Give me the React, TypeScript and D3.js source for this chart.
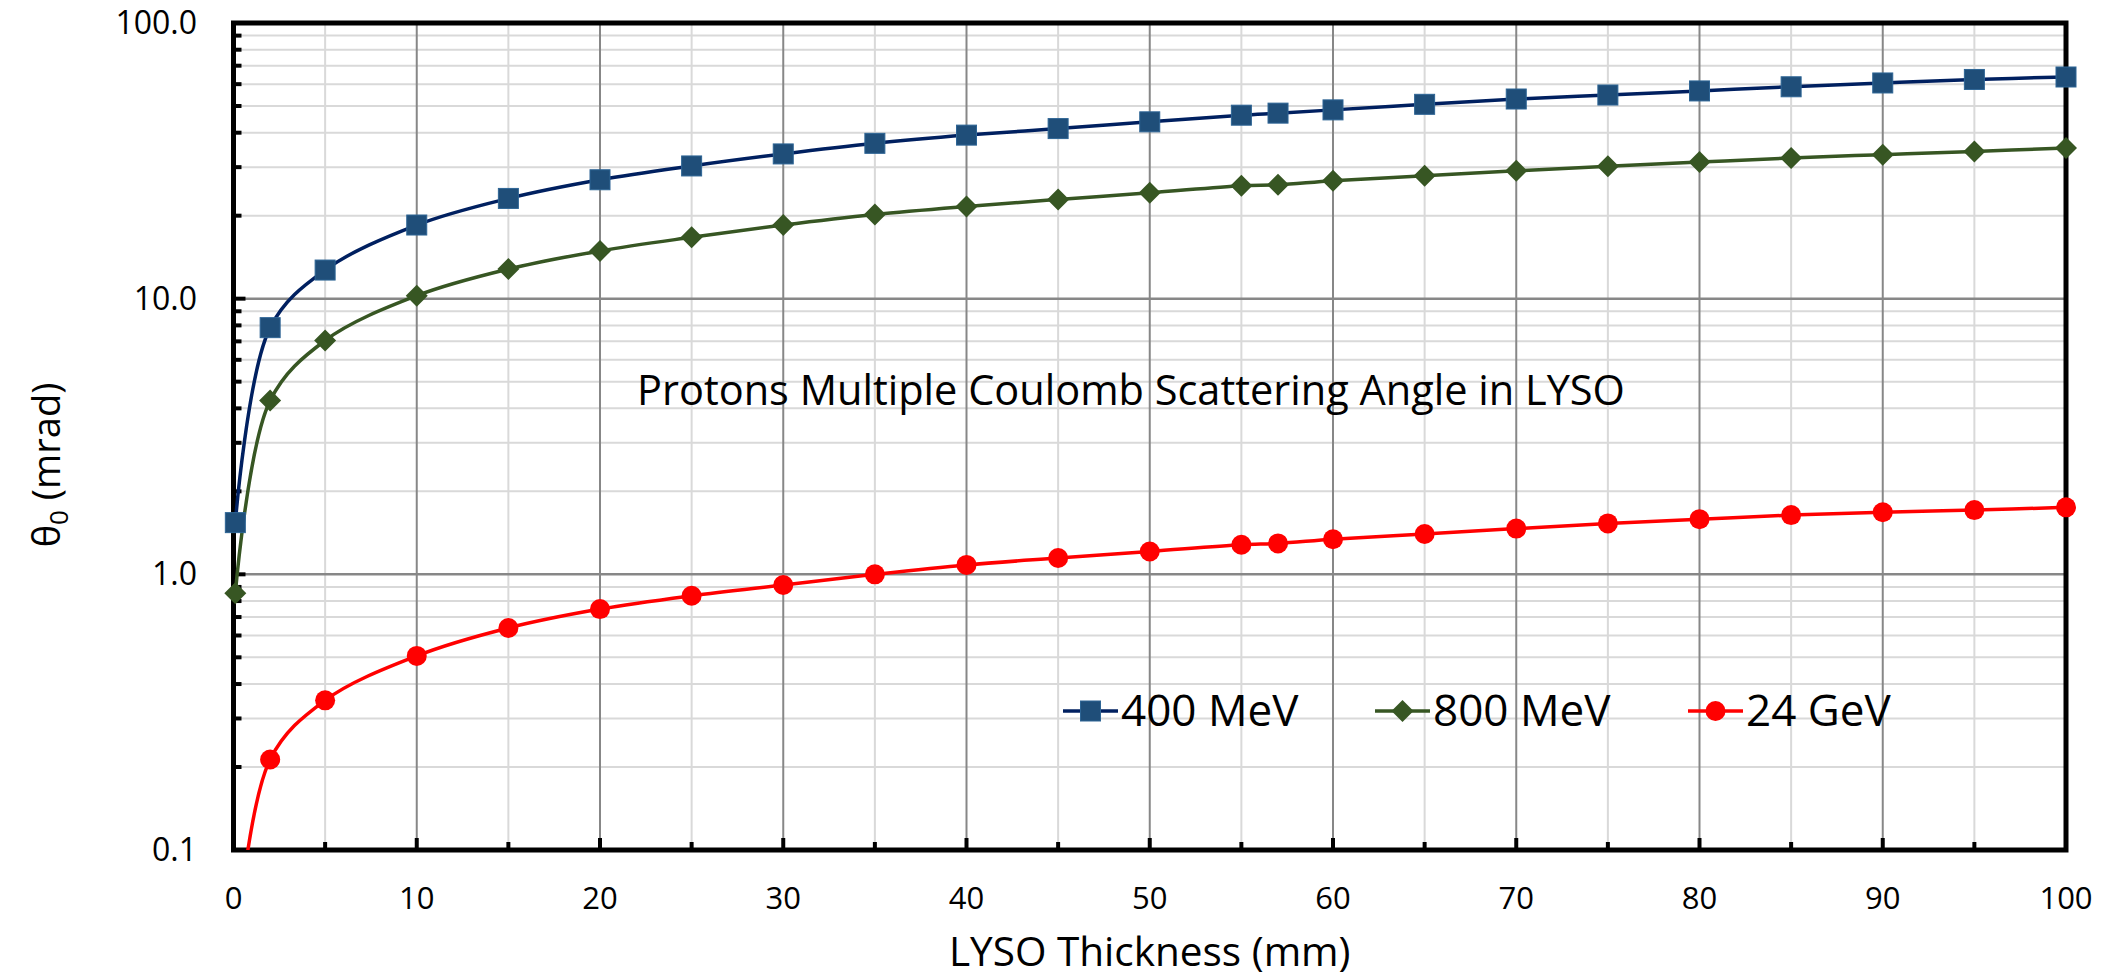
import React from "react";
import * as d3 from "d3";

const THICKNESS = [0.1, 2, 5, 10, 15, 20, 25, 30, 35, 40, 45, 50, 55, 57, 60, 65, 70, 75, 80, 85, 90, 95, 100];
const MEV400 = [1.54, 7.85, 12.7, 18.5, 23.1, 27.0, 30.3, 33.5, 36.6, 39.2, 41.4, 43.8, 46.3, 47.1, 48.4, 50.7, 53.0, 54.8, 56.7, 58.7, 60.6, 62.4, 63.7];
const MEV800 = [0.853, 4.27, 7.05, 10.25, 12.8, 14.9, 16.7, 18.5, 20.2, 21.6, 22.9, 24.2, 25.7, 25.9, 26.8, 27.9, 29.1, 30.2, 31.3, 32.4, 33.3, 34.2, 35.2];
const GEV24 = [0.042, 0.213, 0.349, 0.506, 0.639, 0.748, 0.836, 0.915, 1.0, 1.082, 1.146, 1.21, 1.28, 1.295, 1.34, 1.4, 1.465, 1.53, 1.585, 1.64, 1.68, 1.71, 1.75];
const SERIES_NAMES = ["400 MeV", "800 MeV", "24 GeV"];
const X_TICKS = [0, 10, 20, 30, 40, 50, 60, 70, 80, 90, 100];
const Y_TICKS = [0.1, 1, 10, 100];
const Y_TICK_LABELS = ["0.1", "1.0", "10.0", "100.0"];
const TITLE = "Protons Multiple Coulomb Scattering Angle in LYSO";
const X_TITLE = "LYSO Thickness (mm)";

const W = 2108;
const H = 980;
const L = 233.5, R = 2066, T = 23, B = 850;
const FONT = "'Open Sans', 'Noto Sans', sans-serif";

const styles = [
  { line: "#002060", fill: "#1F4E79", stroke: "#2E6595", shape: "square" },
  { line: "#375623", fill: "#375623", stroke: "#375623", shape: "diamond" },
  { line: "#FF0000", fill: "#FF0000", stroke: "#FF0000", shape: "circle" },
];

function Marker({ shape, x, y, fill, stroke }: any) {
  if (shape === "square")
    return <rect x={x - 10} y={y - 10} width={20} height={20} fill={fill} stroke={stroke} strokeWidth={1} />;
  if (shape === "diamond")
    return <path d={`M${x},${y - 11}L${x + 11},${y}L${x},${y + 11}L${x - 11},${y}Z`} fill={fill} />;
  return <circle cx={x} cy={y} r={10} fill={fill} />;
}

export default function App() {
  const x = d3.scaleLinear().domain([0, 100]).range([L, R]);
  const y = d3.scaleLog().domain([0.1, 100]).range([B, T]);
  const data = [MEV400, MEV800, GEV24];

  const minorX = d3.range(5, 100, 10);
  const minorY: number[] = [];
  for (const dec of [0.1, 1, 10]) for (let k = 2; k <= 9; k++) minorY.push(dec * k);

  const line = d3
    .line<[number, number]>()
    .x((d) => x(d[0]))
    .y((d) => y(d[1]))
    .curve(d3.curveCatmullRom.alpha(0.5));

  const legendY = 711;
  const legendItems = [
    { lx: 1063, tx: 1121 },
    { lx: 1375, tx: 1433 },
    { lx: 1688, tx: 1746 },
  ];

  return (
    <svg width={W} height={H} style={{ position: "absolute", left: 0, top: 0, background: "#fff" }} fontFamily={FONT}>
      <defs>
        <clipPath id="plotclip">
          <rect x={L - 6} y={T - 6} width={R - L + 12} height={B - T + 6} />
        </clipPath>
      </defs>
      <rect x={0} y={0} width={W} height={H} fill="#fff" />
      {/* minor grid */}
      {minorX.map((v) => (
        <line key={"mx" + v} x1={x(v)} x2={x(v)} y1={T} y2={B} stroke="#D9D9D9" strokeWidth={2} />
      ))}
      {minorY.map((v) => (
        <line key={"my" + v} x1={L} x2={R} y1={y(v)} y2={y(v)} stroke="#D9D9D9" strokeWidth={2} />
      ))}
      {/* major grid */}
      {X_TICKS.slice(1, -1).map((v) => (
        <line key={"gx" + v} x1={x(v)} x2={x(v)} y1={T} y2={B} stroke="#878787" strokeWidth={2} />
      ))}
      {Y_TICKS.slice(1, -1).map((v) => (
        <line key={"gy" + v} x1={L} x2={R} y1={y(v)} y2={y(v)} stroke="#878787" strokeWidth={2.5} />
      ))}
      {/* frame */}
      <rect x={L} y={T} width={R - L} height={B - T} fill="none" stroke="#000" strokeWidth={5} />
      {/* ticks */}
      {minorY.map((v) => (
        <line key={"ty" + v} x1={L} x2={L + 8} y1={y(v)} y2={y(v)} stroke="#000" strokeWidth={4} />
      ))}
      {Y_TICKS.map((v) => (
        <line key={"tY" + v} x1={L} x2={L + 12} y1={y(v)} y2={y(v)} stroke="#000" strokeWidth={4} />
      ))}
      {minorX.map((v) => (
        <line key={"tx" + v} x1={x(v)} x2={x(v)} y1={B} y2={B - 8} stroke="#000" strokeWidth={4} />
      ))}
      {X_TICKS.map((v) => (
        <line key={"tX" + v} x1={x(v)} x2={x(v)} y1={B} y2={B - 12} stroke="#000" strokeWidth={4} />
      ))}
      {/* tick labels */}
      {Y_TICKS.map((v, i) => (
        <text key={"ly" + v} x={197} y={y(v) + 11} textAnchor="end" fontSize={32} fill="#000">
          {Y_TICK_LABELS[i]}
        </text>
      ))}
      {X_TICKS.map((v) => (
        <text key={"lx" + v} x={x(v)} y={909} textAnchor="middle" fontSize={31} fill="#000">
          {v}
        </text>
      ))}
      {/* series */}
      <g clipPath="url(#plotclip)">
        {data.map((vals, si) => (
          <path
            key={"s" + si}
            d={line(THICKNESS.map((t, i) => [t, vals[i]] as [number, number])) || ""}
            fill="none"
            stroke={styles[si].line}
            strokeWidth={3.5}
          />
        ))}
      </g>
      {data.map((vals, si) =>
        THICKNESS.map((t, i) =>
          vals[i] >= 0.1 && vals[i] <= 100 ? (
            <Marker key={"m" + si + "-" + i} shape={styles[si].shape} x={x(t)} y={y(vals[i])} fill={styles[si].fill} stroke={styles[si].stroke} />
          ) : null
        )
      )}
      {/* title */}
      <text x={637} y={405} fontSize={41.5} fill="#000">
        {TITLE}
      </text>
      {/* legend */}
      {legendItems.map((it, i) => (
        <g key={"lg" + i}>
          <line x1={it.lx} x2={it.lx + 55} y1={legendY} y2={legendY} stroke={styles[i].line} strokeWidth={3.5} />
          <Marker shape={styles[i].shape} x={it.lx + 27.5} y={legendY} fill={styles[i].fill} stroke={styles[i].stroke} />
          <text x={it.tx} y={legendY + 15} fontSize={44} fill="#000">
            {SERIES_NAMES[i]}
          </text>
        </g>
      ))}
      {/* axis titles */}
      <text x={(L + R) / 2} y={966} textAnchor="middle" fontSize={40.5} fill="#000">
        {X_TITLE}
      </text>
      <text transform={`translate(60,465) rotate(-90)`} textAnchor="middle" fontSize={38} fill="#000">
        θ<tspan fontSize={26} dy={8}>0</tspan>
        <tspan dy={-8}> (mrad)</tspan>
      </text>
    </svg>
  );
}
